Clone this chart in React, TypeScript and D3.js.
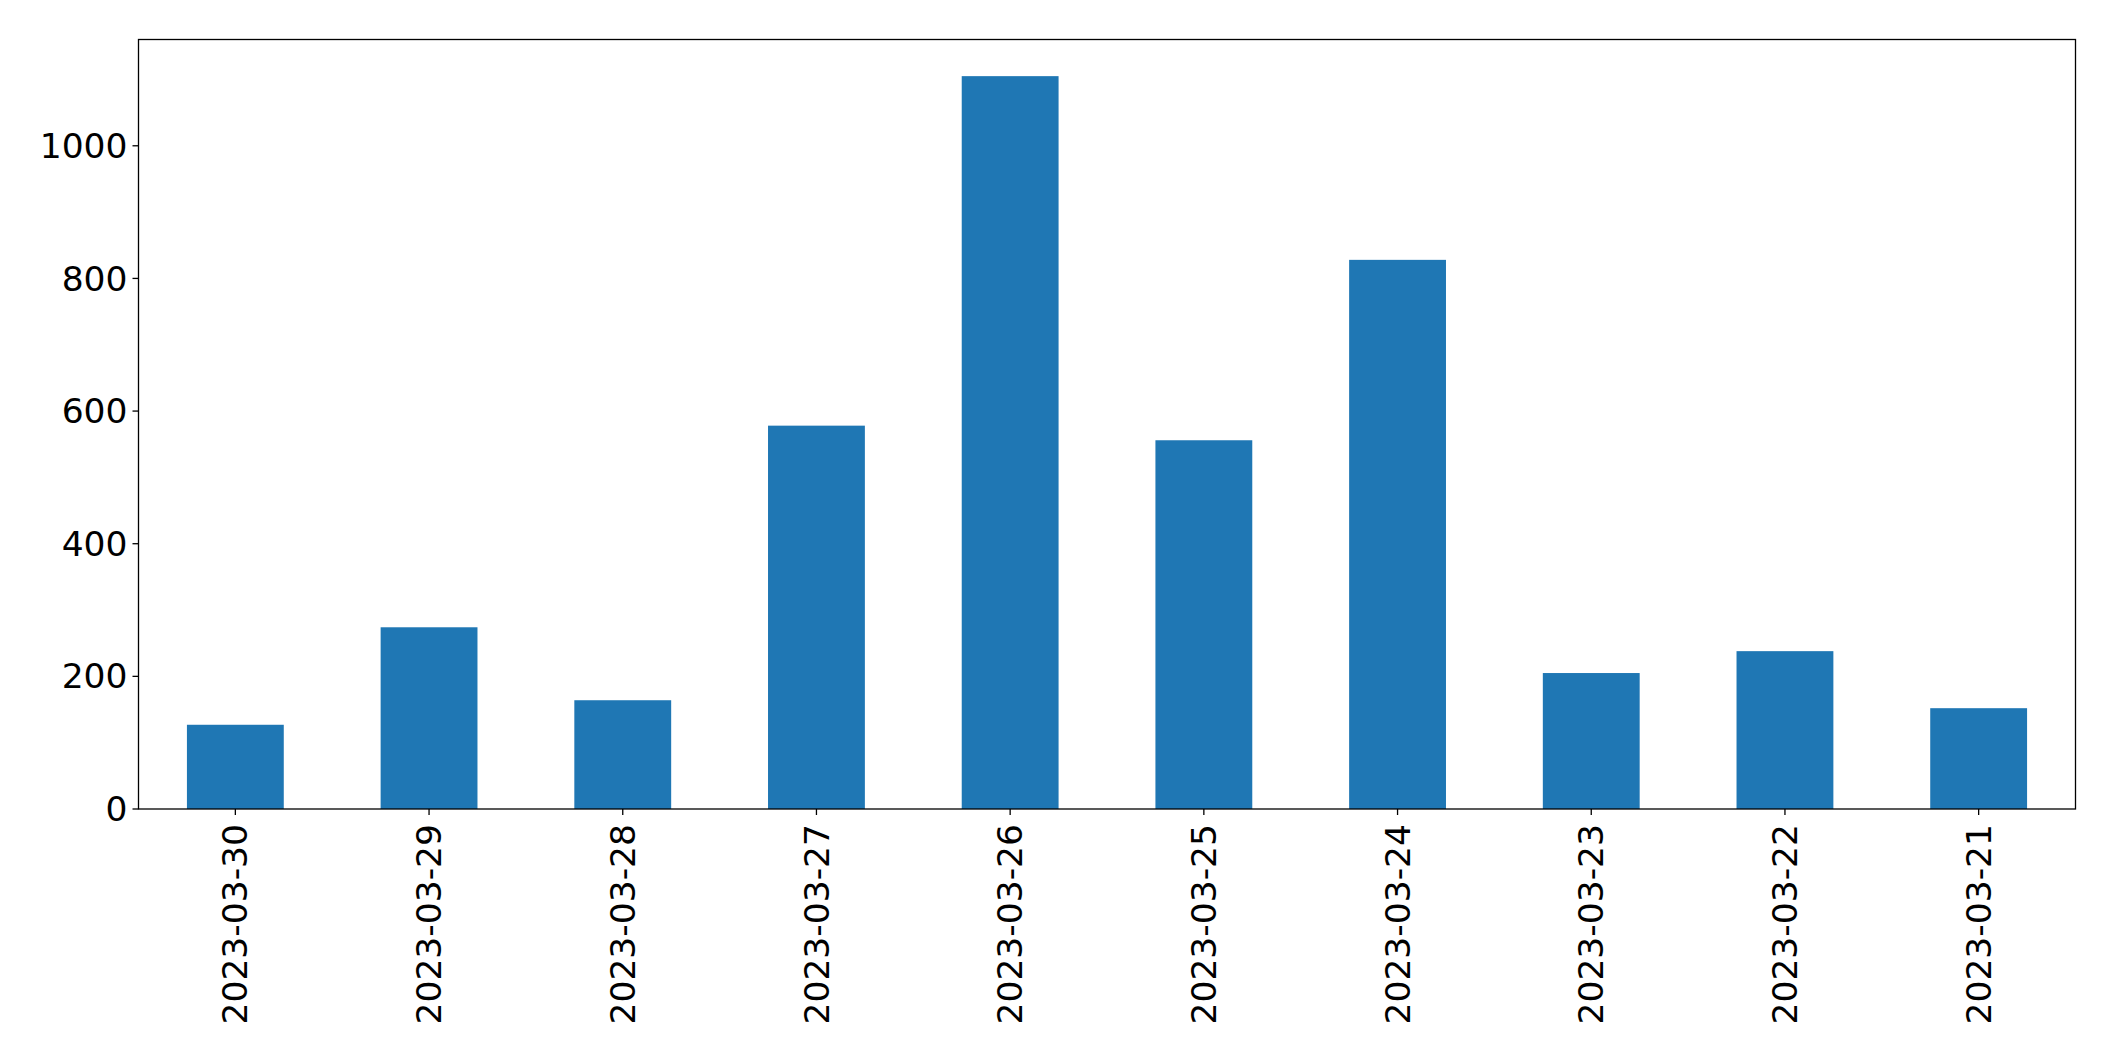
import React from "react";
import * as d3 from "d3";

const categories = [
  "2023-03-30", "2023-03-29", "2023-03-28", "2023-03-27", "2023-03-26",
  "2023-03-25", "2023-03-24", "2023-03-23", "2023-03-22", "2023-03-21",
];
const values = [127, 274, 164, 578, 1105, 556, 828, 205, 238, 152];
const yTicks = [0, 200, 400, 600, 800, 1000];

const W = 2115;
const H = 1061;
const margin = { left: 138.5, right: W - 2075.5, top: 39.5, bottom: H - 809 };

export default function App() {
  const iw = W - margin.left - margin.right;
  const ih = H - margin.top - margin.bottom;
  const x = d3.scaleBand<string>().domain(categories).range([0, iw]).paddingInner(0.5).paddingOuter(0.25);
  const yMax = d3.max(values)! * 1.05;
  const y = d3.scaleLinear().domain([0, yMax]).range([ih, 0]);
  const font = "'DejaVu Sans', sans-serif";
  const fs = 34.5;
  return (
    <svg width={W} height={H} style={{ position: "absolute", left: 0, top: 0, background: "#fff" }} fontFamily={font}>
      <rect x={0} y={0} width={W} height={H} fill="#fff" />
      <g transform={`translate(${margin.left},${margin.top})`}>
        {values.map((v, i) => (
          <rect key={i} x={x(categories[i])} y={y(v)} width={x.bandwidth()} height={ih - y(v)} fill="#1f77b4" />
        ))}
        <rect x={0} y={0} width={iw} height={ih} fill="none" stroke="#000" strokeWidth={1.3} />
        {yTicks.map((t) => (
          <g key={t} transform={`translate(0,${y(t)})`}>
            <line x1={-6} x2={0} stroke="#000" strokeWidth={1.3} />
            <text x={-11} dy="0.35em" textAnchor="end" fontSize={fs} fill="#000">{t}</text>
          </g>
        ))}
        {categories.map((c) => {
          const cx = x(c)! + x.bandwidth() / 2;
          return (
            <g key={c} transform={`translate(${cx},${ih})`}>
              <line y1={0} y2={6} stroke="#000" strokeWidth={1.3} />
              <text transform="rotate(-90)" x={-15} dy="0.35em" textAnchor="end" fontSize={fs} fill="#000">{c}</text>
            </g>
          );
        })}
      </g>
    </svg>
  );
}
